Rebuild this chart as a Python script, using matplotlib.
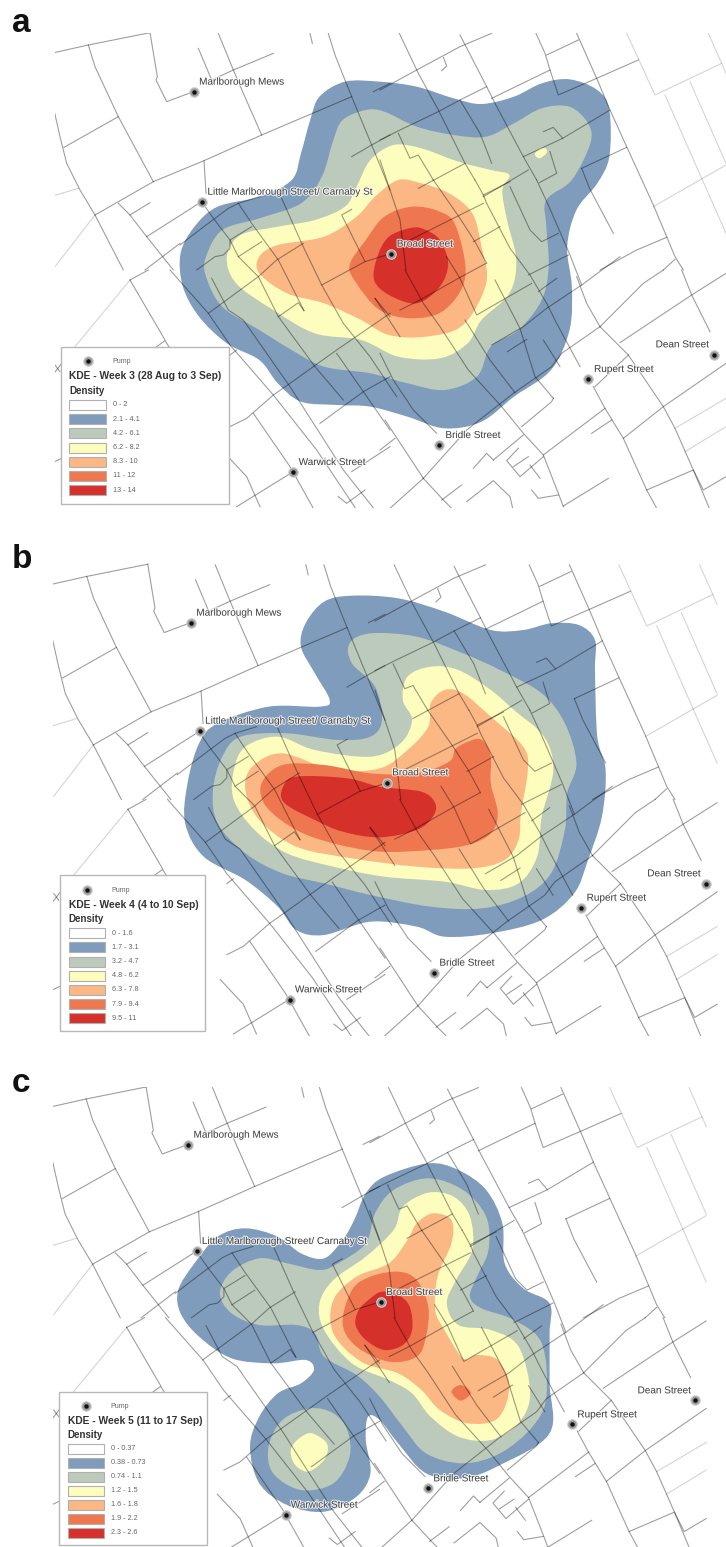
import matplotlib
matplotlib.use("Agg")

import matplotlib.pyplot as plt
import matplotlib.patheffects as pe
from matplotlib.path import Path
from matplotlib.patches import PathPatch, Rectangle
import numpy as np

plt.rcParams['font.family'] = ['Liberation Sans', 'DejaVu Sans']

# contour and label coordinates: 1568 units = full width, 3 units = 1 px in y
colors = ["#ffffff", "#7f9cbc", "#bccabb", "#fdfdbd", "#fbb885", "#ef7750", "#d6302a"]

# streets of panel a, traced in blocks, each with its own origin in px, 3 units = 1 px
streets_tl_origin = (50, 30)
streets_tl = [
    [(12,68),(115,45),(300,8)],
    [(115,45),(135,110),(205,260),(310,455)],
    [(300,8),(322,140),(318,150),(350,215),(430,185)],
    [(445,55),(485,150)],
    [(505,10),(550,120),(580,190),(635,315)],
    [(485,150),(550,120),(670,70)],
    [(780,10),(787,40)],
    [(835,10),(855,75),(905,200),(965,345),(1020,480)],
    [(12,240),(30,320),(50,400),(90,480),(135,555),(220,720)],
    [(42,352),(205,260)],
    [(135,555),(310,455),(462,392),(635,315),(905,200)],
    [(970,185),(1020,160)],
    [(462,392),(468,490)],
    [(205,520),(240,555),(290,620),(370,720)],
    [(240,555),(300,518)],
    [(290,620),(455,515)],
    [(285,720),(390,640)],
    [(905,380),(965,345),(1020,315)],
]
streets_tl_light = [
    [(12,497),(85,475)],
    [(135,555),(15,710)],
]
streets_tr_origin = (380, 30)
streets_tr = [
    [(0,180),(110,120),(240,50),(335,10)],
    [(58,10),(115,130),(175,240),(255,400),(285,450)],
    [(190,82),(200,108),(185,122)],
    [(240,15),(320,170),(345,220),(430,380),(470,450)],
    [(240,210),(300,310),(335,400)],
    [(0,330),(60,300),(175,245),(240,210),(320,170)],
    [(335,205),(510,120)],
    [(468,10),(495,70),(510,120),(535,195),(650,145),(775,90)],
    [(500,75),(595,30)],
    [(590,10),(650,145),(690,240),(740,350),(820,525),(860,620),(885,680),(910,720)],
    [(490,305),(520,292),(548,325),(690,240)],
    [(430,380),(548,325)],
    [(510,365),(530,430),(478,458)],
    [(310,500),(445,420)],
    [(115,475),(255,400)],
    [(55,310),(90,385),(115,375),(160,450)],
    [(605,415),(740,352)],
    [(605,415),(630,478),(700,610)],
    [(0,390),(60,570),(78,720)],
    [(660,720),(770,660),(860,622)],
    [(850,720),(885,688)],
]
streets_tr_light = [
    [(740,10),(825,195),(1025,100),(985,10)],
    [(855,195),(965,445),(1038,610)],
    [(930,155),(1038,400)],
    [(1025,100),(1038,130)],
    [(820,530),(1038,405)],
]
streets_cl_origin = (180, 180)
streets_cl = [
    [(0,195),(65,145),(145,85),(175,70),(240,50)],
    [(65,65),(100,115),(150,180),(175,230),(235,290),(295,410),(405,560),(490,660)],
    [(175,70),(215,130),(295,240),(372,392)],
    [(305,55),(365,190),(425,315),(490,430),(570,530),(650,650)],
    [(585,355),(660,470)],
    [(515,88),(485,105),(555,245)],
    [(50,270),(105,230),(130,225),(150,205),(150,180),(215,140)],
    [(175,230),(245,185)],
    [(85,400),(235,290),(290,240),(370,190)],
    [(295,410),(355,368),(372,392)],
    [(425,315),(555,245),(620,225)],
]
streets_cr_origin = (400, 180)
streets_cr = [
    [(0,390),(60,360),(175,295),(258,250)],
    [(30,180),(250,70)],
    [(250,45),(330,5)],
    [(225,0),(250,45),(260,70),(330,205),(390,285),(440,370),(470,430),(540,560)],
    [(100,0),(180,115),(225,185),(260,250)],
    [(220,185),(300,140)],
    [(140,230),(180,295),(230,405),(395,310)],
    [(275,495),(370,440),(440,385),(545,315),(660,230)],
    [(330,20),(390,150),(425,185),(475,160)],
    [(385,285),(505,225)],
    [(415,335),(470,295)],
    [(410,0),(445,75),(510,225),(545,315)],
]
streets_bl_origin = (50, 270)
streets_bl = [
    [(240,30),(295,0)],
    [(240,30),(345,210)],
    [(320,230),(345,212),(360,235)],
    [(360,0),(475,130),(540,225),(670,375),(800,540),(920,720)],
    [(540,255),(560,240)],
    [(485,25),(535,120),(580,150),(720,350),(880,600),(975,720)],
    [(540,470),(590,445),(670,375),(720,340),(860,240),(1020,130)],
    [(610,430),(720,590),(790,715)],
    [(810,460),(940,365),(1020,320)],
    [(860,250),(940,365),(1020,480)],
    [(975,85),(1020,140)],
    [(905,605),(1020,530)],
    [(560,710),(730,605)],
    [(14,575),(35,565)],
    [(520,545),(590,620),(630,710)],
    [(865,680),(890,700),(945,660)],
    [(15,285),(30,305)],
    [(12,310),(35,280)],
]
streets_bl_light = [
    [(240,30),(75,230)],
]
streets_br_origin = (380, 270)
streets_br = [
    [(255,150),(330,270),(405,368)],
    [(382,245),(440,208)],
    [(75,0),(130,100),(180,170),(265,300),(365,410),(430,490),(490,555),(535,670),(550,710)],
    [(0,250),(40,330),(100,420),(170,490)],
    [(345,30),(420,175),(465,320),(520,385)],
    [(490,210),(540,290)],
    [(590,20),(620,100),(660,170),(700,210),(745,255),(850,410),(885,475),(940,600),(990,720)],
    [(660,170),(545,250),(515,290),(400,370),(260,480),(130,625),(30,715)],
    [(720,218),(935,75),(1038,10)],
    [(660,170),(760,70),(790,40),(850,0)],
    [(905,0),(935,75),(990,185)],
    [(1038,280),(850,410),(730,505)],
    [(745,255),(645,350)],
    [(640,350),(675,415),(730,505),(800,660),(830,715)],
    [(425,470),(515,395),(520,385)],
    [(490,555),(675,415)],
    [(635,490),(695,450)],
    [(340,570),(430,495)],
    [(280,595),(320,550),(340,570)],
    [(415,535),(380,572),(420,620),(490,560)],
    [(400,590),(445,560)],
    [(450,585),(480,625)],
    [(455,660),(475,685),(535,675)],
    [(550,708),(685,625)],
    [(800,660),(940,600),(970,660),(1038,620)],
    [(185,690),(245,645)],
    [(260,695),(340,632),(390,680),(398,715)],
    [(130,625),(190,690),(215,715)],
    [(0,540),(45,505)],
    [(15,450),(130,625)],
]
streets_br_light = [
    [(885,475),(1038,385)],
    [(915,545),(1038,470)],
]

# contours per panel, one closed outline per density class
blue_a = [(745,245),(690,290),(670,360),(650,460),(630,540),(560,590),(470,620),(420,680),(390,760),(395,860),(430,950),(490,1030),(560,1080),(600,1150),(650,1205),(730,1215),(800,1220),(880,1250),(960,1285),(1040,1265),(1110,1190),(1190,1110),(1230,990),(1235,860),(1225,740),(1245,630),(1290,550),(1316,470),(1316,330),(1290,270),(1230,238),(1170,250),(1110,290),(1040,312),(980,295),(900,260),(820,245)]
sage_a = [(790,330),(740,360),(720,420),(695,530),(650,610),(560,655),(480,690),(445,770),(445,830),(480,920),(560,990),(630,1050),(700,1100),(800,1120),(880,1150),(960,1170),(1030,1130),(1060,1040),(1120,990),(1170,900),(1185,800),(1180,680),(1180,600),(1235,540),(1275,430),(1270,370),(1230,320),(1170,325),(1110,370),(1050,410),(980,405),(900,380),(830,335)]
yellow_a = [(850,435),(800,480),(770,560),(745,620),(680,660),(600,680),(520,705),(490,770),(510,850),(590,930),(680,1000),(780,1020),(860,1070),(950,1075),(1010,1030),(1040,960),(1100,880),(1115,780),(1095,660),(1085,570),(1100,525),(1060,510),(990,485),(910,445)]
spot_a = [(1168,445),(1155,462),(1165,475),(1180,460),(1180,447)]
orange_a = [(860,540),(810,590),(770,650),(700,710),(600,735),(560,770),(560,820),(620,880),(700,910),(780,960),(840,1005),(920,1010),(1000,975),(1050,850),(1040,740),(1020,640),(970,580),(910,550)]
coral_a = [(890,620),(830,650),(790,720),(755,795),(770,850),(820,930),(890,955),(960,930),(1005,830),(985,680),(950,635)]
red_a = [(890,683),(840,710),(815,770),(808,840),(840,885),(900,910),(950,860),(968,790),(950,720),(920,690)]

blue_b = [(760,197),(700,215),(660,280),(650,350),(680,430),(712,510),(690,530),(580,530),(470,580),(430,640),(405,760),(400,880),(440,980),(530,1050),(600,1130),(640,1200),(700,1215),(800,1175),(900,1190),(960,1220),(1060,1210),(1170,1170),(1240,1090),(1270,990),(1300,860),(1308,720),(1290,620),(1285,420),(1285,330),(1250,285),(1190,280),(1130,300),(1060,300),(960,245),(860,205)]
sage_b = [(800,310),(755,340),(760,400),(810,470),(825,570),(800,620),(730,630),(620,610),(520,620),(480,680),(460,780),(470,880),(530,970),(610,1030),(700,1060),(800,1095),(930,1130),(1040,1135),(1130,1100),(1190,1030),(1220,900),(1225,790),(1245,700),(1220,580),(1170,490),(1080,420),(1000,370),(900,320)]
yellow_b = [(930,410),(880,440),(870,510),(890,570),(865,640),(800,680),(680,660),(600,620),(530,650),(505,720),(505,810),(550,900),(620,970),(720,1010),(830,1040),(960,1055),(1050,1080),(1120,1060),(1160,980),(1170,860),(1195,720),(1175,620),(1110,540),(1060,480),(990,420)]
orange_b = [(960,480),(930,520),(925,590),(880,660),(820,715),(720,720),(610,670),(545,710),(530,780),(560,870),(640,950),(760,985),(900,1010),(1020,1015),(1090,990),(1120,930),(1125,850),(1140,720),(1130,650),(1060,560),(1000,490)]
coral_b = [(1025,628),(985,655),(970,695),(900,730),(800,730),(700,705),(610,705),(565,760),(575,830),(640,900),(720,940),(820,965),(930,960),(1010,945),(1060,910),(1075,850),(1060,760),(1060,680),(1045,635)]
red_b = [(640,740),(610,775),(615,820),(680,870),(740,905),(820,922),(900,900),(935,860),(940,820),(910,785),(820,770),(750,745)]

blue_c = [(925,340),(830,380),(790,430),(765,510),(740,570),(700,625),(650,610),(600,560),(530,535),(470,560),(420,640),(385,720),(390,790),(430,860),(500,925),(590,940),(660,930),(678,960),(650,1000),(600,1030),(560,1100),(540,1190),(560,1300),(620,1365),(700,1385),(770,1340),(800,1270),(790,1170),(795,1100),(820,1110),(860,1180),(920,1270),(1000,1285),(1080,1245),(1187,1150),(1187,1000),(1187,850),(1187,760),(1130,715),(1090,640),(1085,520),(1050,420),(990,360)]
sage_c = [(925,385),(850,420),(810,490),(790,580),(730,640),(690,660),(620,640),(560,625),(500,665),(475,730),(500,790),(560,825),(640,825),(680,850),(700,920),(770,975),(820,1040),(870,1130),(920,1210),(1000,1240),(1080,1210),(1150,1130),(1180,1040),(1170,880),(1110,810),(1040,775),(1015,740),(1030,680),(1055,600),(1050,500),(1000,420)]
sage2_c = [(670,1075),(610,1110),(580,1190),(590,1270),(650,1320),(720,1300),(755,1220),(750,1140),(720,1090)]
yellow_c = [(925,428),(870,470),(850,540),(790,620),(720,690),(690,760),(700,840),(760,940),(840,990),(890,1030),(930,1100),(990,1160),(1060,1170),(1120,1120),(1145,1030),(1120,890),(1060,840),(990,825),(965,760),(985,690),(1020,600),(1015,500),(980,440)]
yellow2_c = [(665,1150),(630,1190),(635,1240),(665,1265),(700,1230),(708,1190),(695,1165)]
orange_c = [(935,490),(900,520),(880,570),(840,640),(770,680),(720,750),(720,850),(780,935),(860,970),(910,1020),(950,1080),(1010,1120),(1075,1105),(1100,1010),(1075,930),(1030,915),(1000,925),(960,840),(940,780),(945,680),(975,580),(975,510)]
coral_c = [(860,665),(800,680),(760,720),(740,820),(770,890),(840,935),(900,920),(920,860),(925,770),(900,690)]
coral2_c = [(995,1005),(975,1025),(995,1052),(1017,1028)]
red_c = [(800,745),(775,780),(768,825),(790,870),(830,900),(870,885),(890,840),(885,770),(860,735),(825,725)]

pump_names = ["Marlborough Mews", "Little Marlborough Street/ Carnaby St", "Broad Street",
              "Dean Street", "Rupert Street", "Bridle Street", "Warwick Street"]
pumps_a = [(418,276),(436,605),(845,762),(1543,1065),(1270,1138),(949,1336),(633,1417)]
pumps_b = [(412,279),(431,603),(835,760),(1524,1061),(1255,1135),(938,1330),(626,1410)]
pumps_c = [(407,284),(426,603),(822,757),(1501,1051),(1236,1123),(924,1315),(618,1394)]
labels_a = [(430,245),(448,575),(857,731),(1416,1033),(1283,1107),(962,1305),(645,1386)]
labels_b = [(424,248),(443,572),(847,727),(1398,1030),(1267,1103),(949,1298),(637,1378)]
labels_c = [(418,254),(436,573),(834,726),(1377,1021),(1247,1093),(936,1285),(628,1364)]

classes_a = ["0 - 2", "2.1 - 4.1", "4.2 - 6.1", "6.2 - 8.2", "8.3 - 10", "11 - 12", "13 - 14"]
classes_b = ["0 - 1.6", "1.7 - 3.1", "3.2 - 4.7", "4.8 - 6.2", "6.3 - 7.8", "7.9 - 9.4", "9.5 - 11"]
classes_c = ["0 - 0.37", "0.38 - 0.73", "0.74 - 1.1", "1.2 - 1.5", "1.6 - 1.8", "1.9 - 2.2", "2.3 - 2.6"]

street_blocks = [
    (streets_tl_origin, streets_tl, False),
    (streets_tl_origin, streets_tl_light, True),
    (streets_tr_origin, streets_tr, False),
    (streets_tr_origin, streets_tr_light, True),
    (streets_cl_origin, streets_cl, False),
    (streets_cr_origin, streets_cr, False),
    (streets_bl_origin, streets_bl, False),
    (streets_bl_origin, streets_bl_light, True),
    (streets_br_origin, streets_br, False),
    (streets_br_origin, streets_br_light, True),
]


def smooth_patch(pts, color):
    # closed catmull-rom outline as bezier path
    p = np.array(pts, dtype=float)
    n = len(p)
    verts = [p[0]]
    codes = [Path.MOVETO]
    for i in range(n):
        p0, p1, p2, p3 = p[i - 1], p[i], p[(i + 1) % n], p[(i + 2) % n]
        verts += [p1 + (p2 - p0) / 6, p2 - (p3 - p1) / 6, p2]
        codes += [Path.CURVE4] * 3
    return PathPatch(Path(verts, codes), facecolor=color, edgecolor="none")


def draw_pump(ax, x, y, z):
    ax.plot(x, y, "o", ms=6.8, mfc="#9a9a9a", mec="#cfcfcf", mew=0.8, zorder=z)
    ax.plot(x, y, "o", ms=3.2, color="#111111", mew=0, zorder=z + 1)


def draw_panel(top, height, letter, letter_y, shapes, pumps, labels, legend, title, classes, fx, fy, clip):
    ax = fig.add_axes([0, 1 - (top + height) / 1547, 1, height / 1547])
    ax.set_xlim(0, 1568)
    ax.set_ylim(height * 3, 0)
    ax.axis("off")

    for pts, c in shapes:
        ax.add_patch(smooth_patch(pts, colors[c]))

    box = Rectangle((clip[0], clip[1]), clip[2] - clip[0], clip[3] - clip[1], transform=ax.transData)
    for (ox, oy), lines, light in street_blocks:
        for line in lines:
            # block units to map units, then the small shift and scale of this panel
            xs = [fx[0] + fx[1] * ((ox + x / 3) * 1568 / 726 - 418) for x, y in line]
            ys = [fy[0] + fy[1] * (oy * 3 + y - 276) for x, y in line]
            if light:
                l, = ax.plot(xs, ys, color="black", alpha=0.17, lw=0.8, solid_joinstyle="round")
            else:
                l, = ax.plot(xs, ys, color="black", alpha=0.38, lw=0.8, solid_joinstyle="round")
            l.set_clip_path(box)

    halo = [pe.withStroke(linewidth=1.5, foreground="white", alpha=0.8)]
    for name, (px, py), (tx, ty) in zip(pump_names, pumps, labels):
        draw_pump(ax, px, py, 5)
        ax.text(tx, ty, name, fontsize=7.2, color="#444444", va="center", ha="left",
                path_effects=halo, zorder=7)

    x0, y0, x1, y1 = legend["box"]
    ax.add_patch(Rectangle((x0, y0), x1 - x0, y1 - y0, fc="white", ec="#b8b8b8", lw=1, zorder=8))
    draw_pump(ax, x0 + 57, legend["pump_y"], 9)
    ax.text(x0 + 111, legend["pump_y"] + 2, "Pump", fontsize=5, color="#666666", va="center", zorder=9)
    ax.text(x0 + 18, legend["title_y"], title, fontsize=7.4, fontweight="bold", color="#333333", va="center", zorder=9)
    ax.text(x0 + 18, legend["density_y"], "Density", fontsize=7, fontweight="bold", color="#333333", va="center", zorder=9)
    for i, label in enumerate(classes):
        y = legend["swatch_y"] + i * legend["step"]
        ax.add_patch(Rectangle((x0 + 18, y - 15), 78, 30, fc=colors[i], ec="#b0b0b0", lw=0.8, zorder=9))
        ax.text(x0 + 111, y, label, fontsize=5.2, color="#666666", va="center", zorder=9)

    ax.text(26, letter_y, letter, fontsize=24, fontweight="bold", color="#111111", va="baseline", ha="left")


fig = plt.figure(figsize=(7.26, 15.47), dpi=100)

draw_panel(0, 515, "a", 95,
           [(blue_a, 1), (sage_a, 2), (yellow_a, 3), (spot_a, 3), (orange_a, 4), (coral_a, 5), (red_a, 6)],
           pumps_a, labels_a,
           dict(box=(132, 1040, 495, 1512), pump_y=1082, title_y=1128, density_y=1172, swatch_y=1215, step=42.5),
           "KDE - Week 3 (28 Aug to 3 Sep)", classes_a,
           (418, 1.0), (276, 1.0), (118, 98, 1568, 1525))

draw_panel(530, 515, "b", 115,
           [(blue_b, 1), (sage_b, 2), (yellow_b, 3), (orange_b, 4), (coral_b, 5), (red_b, 6)],
           pumps_b, labels_b,
           dict(box=(130, 1035, 443, 1503), pump_y=1079, title_y=1124, density_y=1167, swatch_y=1210, step=42.4),
           "KDE - Week 4 (4 to 10 Sep)", classes_b,
           (412, 0.9884), (279, 0.9911), (115, 100, 1568, 1518))

draw_panel(1050, 497, "c", 127,
           [(blue_c, 1), (sage_c, 2), (sage2_c, 2), (yellow_c, 3), (yellow2_c, 3), (orange_c, 4),
            (coral_c, 5), (coral2_c, 5), (red_c, 6)],
           pumps_c, labels_c,
           dict(box=(128, 1027, 447, 1485), pump_y=1068, title_y=1113, density_y=1156, swatch_y=1197, step=41.8),
           "KDE - Week 5 (11 to 17 Sep)", classes_c,
           (407, 0.9724), (284, 0.9721), (115, 110, 1545, 1490))

fig.savefig("out.png", dpi=100)
